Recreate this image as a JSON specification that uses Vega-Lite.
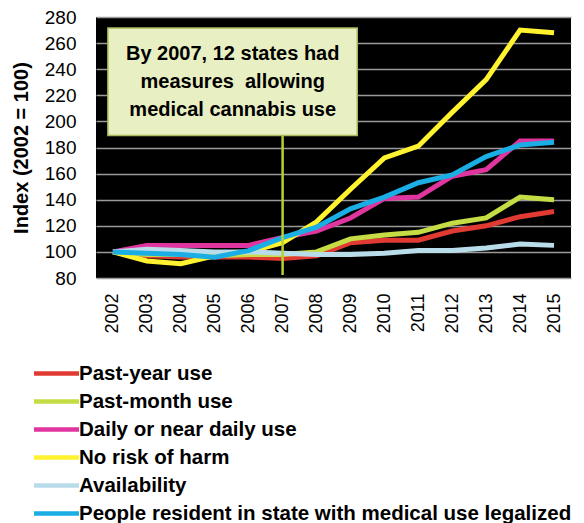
{
  "$schema": "https://vega.github.io/schema/vega-lite/v6.json",
  "width": 475,
  "height": 261,
  "autosize": {"type": "none"},
  "padding": {"left": 96, "top": 17, "right": 13, "bottom": 245},
  "background": "white",
  "config": {
    "view": {"fill": "black", "stroke": null},
    "font": "Liberation Sans"
  },
  "datasets": {
    "series": [
      {"year": 2002, "series": "Past-year use", "value": 100},
      {"year": 2003, "series": "Past-year use", "value": 97},
      {"year": 2004, "series": "Past-year use", "value": 96},
      {"year": 2005, "series": "Past-year use", "value": 96},
      {"year": 2006, "series": "Past-year use", "value": 96},
      {"year": 2007, "series": "Past-year use", "value": 95},
      {"year": 2008, "series": "Past-year use", "value": 97},
      {"year": 2009, "series": "Past-year use", "value": 107},
      {"year": 2010, "series": "Past-year use", "value": 109},
      {"year": 2011, "series": "Past-year use", "value": 109},
      {"year": 2012, "series": "Past-year use", "value": 116},
      {"year": 2013, "series": "Past-year use", "value": 120},
      {"year": 2014, "series": "Past-year use", "value": 127},
      {"year": 2015, "series": "Past-year use", "value": 131},
      {"year": 2002, "series": "Past-month use", "value": 100},
      {"year": 2003, "series": "Past-month use", "value": 98},
      {"year": 2004, "series": "Past-month use", "value": 98},
      {"year": 2005, "series": "Past-month use", "value": 97},
      {"year": 2006, "series": "Past-month use", "value": 98},
      {"year": 2007, "series": "Past-month use", "value": 98},
      {"year": 2008, "series": "Past-month use", "value": 100},
      {"year": 2009, "series": "Past-month use", "value": 110},
      {"year": 2010, "series": "Past-month use", "value": 113},
      {"year": 2011, "series": "Past-month use", "value": 115},
      {"year": 2012, "series": "Past-month use", "value": 122},
      {"year": 2013, "series": "Past-month use", "value": 126},
      {"year": 2014, "series": "Past-month use", "value": 142},
      {"year": 2015, "series": "Past-month use", "value": 140},
      {"year": 2002, "series": "Daily or near daily use", "value": 100},
      {"year": 2003, "series": "Daily or near daily use", "value": 105},
      {"year": 2004, "series": "Daily or near daily use", "value": 105},
      {"year": 2005, "series": "Daily or near daily use", "value": 105},
      {"year": 2006, "series": "Daily or near daily use", "value": 105},
      {"year": 2007, "series": "Daily or near daily use", "value": 111},
      {"year": 2008, "series": "Daily or near daily use", "value": 116},
      {"year": 2009, "series": "Daily or near daily use", "value": 126},
      {"year": 2010, "series": "Daily or near daily use", "value": 141},
      {"year": 2011, "series": "Daily or near daily use", "value": 142},
      {"year": 2012, "series": "Daily or near daily use", "value": 158},
      {"year": 2013, "series": "Daily or near daily use", "value": 163},
      {"year": 2014, "series": "Daily or near daily use", "value": 185},
      {"year": 2015, "series": "Daily or near daily use", "value": 185},
      {"year": 2002, "series": "No risk of harm", "value": 100},
      {"year": 2003, "series": "No risk of harm", "value": 93},
      {"year": 2004, "series": "No risk of harm", "value": 91},
      {"year": 2005, "series": "No risk of harm", "value": 97},
      {"year": 2006, "series": "No risk of harm", "value": 100},
      {"year": 2007, "series": "No risk of harm", "value": 107},
      {"year": 2008, "series": "No risk of harm", "value": 123},
      {"year": 2009, "series": "No risk of harm", "value": 148},
      {"year": 2010, "series": "No risk of harm", "value": 172},
      {"year": 2011, "series": "No risk of harm", "value": 181},
      {"year": 2012, "series": "No risk of harm", "value": 207},
      {"year": 2013, "series": "No risk of harm", "value": 232},
      {"year": 2014, "series": "No risk of harm", "value": 270},
      {"year": 2015, "series": "No risk of harm", "value": 268},
      {"year": 2002, "series": "Availability", "value": 100},
      {"year": 2003, "series": "Availability", "value": 102},
      {"year": 2004, "series": "Availability", "value": 101},
      {"year": 2005, "series": "Availability", "value": 100},
      {"year": 2006, "series": "Availability", "value": 100},
      {"year": 2007, "series": "Availability", "value": 99},
      {"year": 2008, "series": "Availability", "value": 98},
      {"year": 2009, "series": "Availability", "value": 98},
      {"year": 2010, "series": "Availability", "value": 99},
      {"year": 2011, "series": "Availability", "value": 101},
      {"year": 2012, "series": "Availability", "value": 101},
      {"year": 2013, "series": "Availability", "value": 103},
      {"year": 2014, "series": "Availability", "value": 106},
      {"year": 2015, "series": "Availability", "value": 105},
      {"year": 2002, "series": "People resident in state with medical use legalized", "value": 100},
      {"year": 2003, "series": "People resident in state with medical use legalized", "value": 99},
      {"year": 2004, "series": "People resident in state with medical use legalized", "value": 98},
      {"year": 2005, "series": "People resident in state with medical use legalized", "value": 96},
      {"year": 2006, "series": "People resident in state with medical use legalized", "value": 101},
      {"year": 2007, "series": "People resident in state with medical use legalized", "value": 111},
      {"year": 2008, "series": "People resident in state with medical use legalized", "value": 119},
      {"year": 2009, "series": "People resident in state with medical use legalized", "value": 133},
      {"year": 2010, "series": "People resident in state with medical use legalized", "value": 142},
      {"year": 2011, "series": "People resident in state with medical use legalized", "value": 153},
      {"year": 2012, "series": "People resident in state with medical use legalized", "value": 159},
      {"year": 2013, "series": "People resident in state with medical use legalized", "value": 173},
      {"year": 2014, "series": "People resident in state with medical use legalized", "value": 182},
      {"year": 2015, "series": "People resident in state with medical use legalized", "value": 184}
    ],
    "note": [{"label": "By 2007"}]
  },
  "layer": [
    {
      "data": {"name": "series"},
      "mark": {"type": "line", "strokeWidth": 5, "strokeJoin": "miter", "strokeCap": "butt"},
      "encoding": {
        "x": {
          "field": "year",
          "type": "quantitative",
          "scale": {"domain": [2001.5, 2015.5], "nice": false, "zero": false},
          "axis": {
            "title": null,
            "values": [2002, 2003, 2004, 2005, 2006, 2007, 2008, 2009, 2010, 2011, 2012, 2013, 2014, 2015],
            "tickCount": 30,
            "format": "d",
            "labelAngle": 270,
            "labelFontSize": 18,
            "labelFont": "Liberation Sans",
            "labelColor": "black",
            "labelPadding": 15,
            "ticks": false,
            "domain": false,
            "grid": false,
            "labelOverlap": false,
            "labelBound": false,
            "labelFlush": false
          }
        },
        "y": {
          "field": "value",
          "type": "quantitative",
          "scale": {"domain": [80, 280], "nice": false, "zero": false},
          "axis": {
            "title": "Index (2002 = 100)",
            "titleFontSize": 20,
            "titleFont": "Liberation Sans",
            "titleFontWeight": "bold",
            "titleColor": "black",
            "titlePadding": 13,
            "values": [80, 100, 120, 140, 160, 180, 200, 220, 240, 260, 280],
            "tickCount": 30,
            "labelFontSize": 19,
            "labelFont": "Liberation Sans",
            "labelColor": "black",
            "labelPadding": 20,
            "labelOverlap": false,
            "labelFlush": false,
            "ticks": false,
            "domain": false,
            "grid": true,
            "gridColor": "#9a9a9a",
            "gridWidth": 1.5
          }
        },
        "color": {
          "field": "series",
          "type": "nominal",
          "sort": null,
          "scale": {
            "domain": ["Past-year use", "Past-month use", "Daily or near daily use", "No risk of harm", "Availability", "People resident in state with medical use legalized"],
            "range": ["#e03a32", "#c5dc45", "#e0359e", "#fff22e", "#b9dcea", "#1aaee5"]
          },
          "legend": {
            "orient": "none",
            "legendX": -53,
            "legendY": 343,
            "direction": "vertical",
            "title": null,
            "symbolType": "M-2,0H2",
            "symbolSize": 506,
            "symbolStrokeWidth": 4.5,
            "labelFontSize": 20.5,
            "labelFont": "Liberation Sans",
            "labelFontWeight": "bold",
            "labelColor": "black",
            "rowPadding": 4,
            "labelOffset": 9,
            "labelLimit": 700
          }
        }
      }
    },
    {
      "data": {"name": "note"},
      "mark": {"type": "rule", "color": "#b8d034", "strokeWidth": 2.5},
      "encoding": {
        "x": {"datum": 2007},
        "y": {"datum": 82.3},
        "y2": {"datum": 189}
      }
    },
    {
      "data": {"name": "note"},
      "mark": {"type": "rect", "fill": "#e8efc2", "stroke": "#a9b85a", "strokeWidth": 1.5},
      "encoding": {
        "x": {"datum": 2001.85},
        "x2": {"datum": 2009.2},
        "y": {"datum": 189.2},
        "y2": {"datum": 271.5}
      }
    },
    {
      "data": {"name": "note"},
      "mark": {
        "type": "text",
        "text": ["By 2007, 12 states had", "measures\u00a0 allowing", "medical cannabis use"],
        "font": "Liberation Sans",
        "fontWeight": "bold",
        "fontSize": 20,
        "lineHeight": 28,
        "align": "center",
        "baseline": "middle",
        "color": "black"
      },
      "encoding": {
        "x": {"datum": 2005.53},
        "y": {"datum": 251.5}
      }
    }
  ]
}
